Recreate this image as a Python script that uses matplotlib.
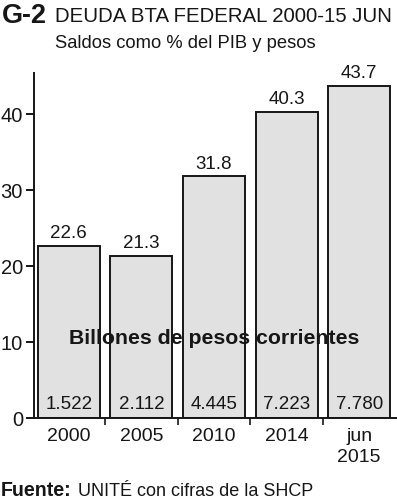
import matplotlib
matplotlib.use("Agg")
import matplotlib.pyplot as plt
import numpy as np

categories = ['2000', '2005', '2010', '2014', 'jun\n2015']
pct_pib = [22.6, 21.3, 31.8, 40.3, 43.7]
billones = ['1.522', '2.112', '4.445', '7.223', '7.780']
yticks = [0, 10, 20, 30, 40]

plt.rcParams['font.family'] = ['Liberation Sans', 'DejaVu Sans']
ink = '#161616'

fig = plt.figure(figsize=(3.97, 5.0), dpi=100)
ax = fig.add_axes([34/397, 1-418/500, 1-34/397, (418-73)/500])
renderer = fig.canvas.get_renderer()


def fit_text(x0, x1, y, s, **kw):
    # place text starting at pixel x0 and scale font size so it ends at x1
    t = fig.text(x0/397, y, s, va='center', ha='left', color=ink, **kw)
    w = t.get_window_extent(renderer).width
    t.set_fontsize(t.get_fontsize() * (x1 - x0) / w)
    return t


x = np.arange(len(categories))
ax.bar(x, pct_pib, width=0.855, color='#e1e1e1', edgecolor=ink, linewidth=1.4)

for xi, v, b in zip(x, pct_pib, billones):
    ax.text(xi, v + 0.5, f'{v:.1f}', ha='center', va='bottom', fontsize=13.5, color=ink)
    ax.text(xi, 0.7, b, ha='center', va='bottom', fontsize=13.5, color=ink)

ax.text(2, 10.5, 'Billones de pesos corrientes', ha='center', va='center',
        fontsize=15.3, fontweight='bold', color=ink)

ax.set_xlim(-0.48, 4.52)
ax.set_ylim(0, 45.4)
ax.set_yticks(yticks)
ax.set_xticks(x)
ax.set_xticklabels(categories, fontsize=14, linespacing=1.3, color=ink)
ax.set_xticks(x[:-1] + 0.5, minor=True)
ax.tick_params(axis='x', which='major', length=0, pad=7)
ax.tick_params(axis='x', which='minor', length=5, width=1.2, direction='out', color=ink)
ax.tick_params(axis='y', length=6, width=1.4, labelsize=14.5, pad=2, color=ink, labelcolor=ink)
for s in ['top', 'right']:
    ax.spines[s].set_visible(False)
for s in ['left', 'bottom']:
    ax.spines[s].set_linewidth(1.4)
    ax.spines[s].set_color(ink)

fit_text(2, 47, 0.968, 'G-2', fontsize=22, fontweight='bold')
fit_text(55, 392, 0.968, 'DEUDA BTA FEDERAL 2000-15 JUN', fontsize=20)
fit_text(55, 317, 0.914, 'Saldos como % del PIB y pesos', fontsize=14)

fit_text(1, 72, 0.018, 'Fuente:', fontsize=13, fontweight='bold')
fit_text(78, 312, 0.018, 'UNITÉ con cifras de la SHCP', fontsize=13)

fig.savefig('out.png', dpi=100)
